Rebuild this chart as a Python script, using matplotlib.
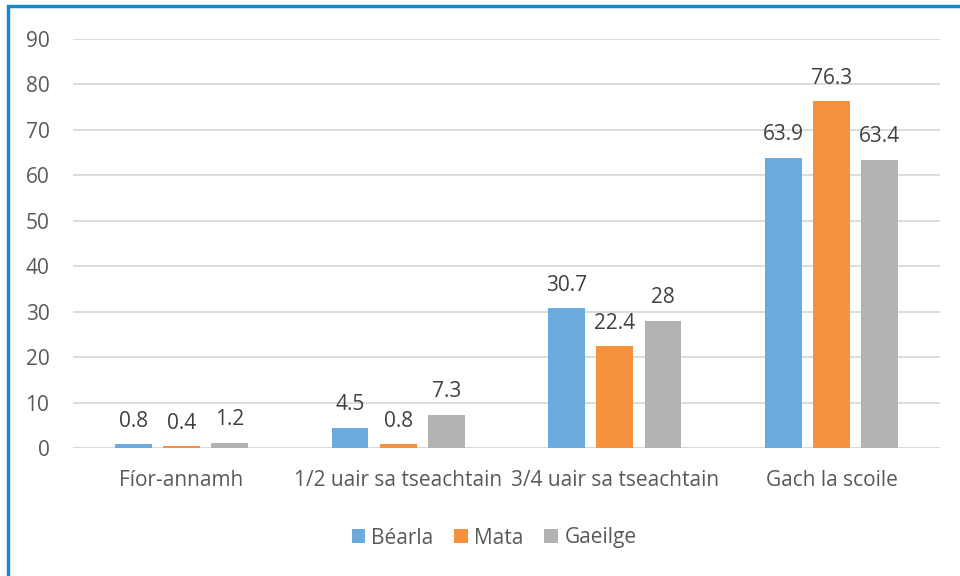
import numpy as np
import matplotlib.pyplot as plt
from matplotlib.patches import Rectangle

categories = ['Fíor-annamh', '1/2 uair sa tseachtain', '3/4 uair sa tseachtain', 'Gach la scoile']
series_names = ['Béarla', 'Mata', 'Gaeilge']
bearla = [0.8, 4.5, 30.7, 63.9]
mata = [0.4, 0.8, 22.4, 76.3]
gaeilge = [1.2, 7.3, 28, 63.4]
colors = ['#6AAADC', '#F5923E', '#B3B3B3']

plt.rcParams['font.family'] = ['Open Sans', 'DejaVu Sans']
FS = 15

fig = plt.figure(figsize=(9.6, 5.76), dpi=100)
ax = fig.add_axes([73/960, 1-448/576, (940-73)/960, (448-39)/576])

x = np.arange(len(categories))
width = 0.17
step = 0.222
for i, (vals, name) in enumerate(zip([bearla, mata, gaeilge], series_names)):
    pos = x + (i - 1) * step
    bars = ax.bar(pos, vals, width, color=colors[i], label=name, zorder=3)
    for b, v in zip(bars, vals):
        ax.annotate('{:g}'.format(v), (b.get_x() + b.get_width()/2, v),
                    xytext=(0, 9), textcoords='offset points',
                    ha='center', va='bottom', fontsize=FS, color='#404040')

ax.set_ylim(0, 90)
ax.set_xlim(-0.5, len(categories) - 0.5)
ax.set_yticks(range(0, 91, 10))
ax.set_xticks(x)
ax.set_xticklabels(categories)
ax.yaxis.grid(True, color='#D9D9D9', linewidth=1.3, zorder=0)
for s in ax.spines.values():
    s.set_visible(False)
ax.tick_params(axis='both', length=0, labelsize=FS, colors='#595959')
ax.tick_params(axis='x', pad=16)
ax.tick_params(axis='y', pad=17)
ax.axhline(0, color='#D9D9D9', linewidth=1.3, zorder=2)

ax.legend(loc='center', bbox_to_anchor=(494/960, 1-538/576), bbox_transform=fig.transFigure,
          ncol=3, frameon=False, fontsize=FS, handlelength=0.65, handleheight=0.65,
          handletextpad=0.3, columnspacing=1.0, labelcolor='#595959')

fig.patches.append(Rectangle((7.5/960, -0.5), 2, 1.5 - 5.5/576, transform=fig.transFigure,
                             fill=False, edgecolor='#1588D4', linewidth=2.5))

fig.savefig('out.png', dpi=100)
